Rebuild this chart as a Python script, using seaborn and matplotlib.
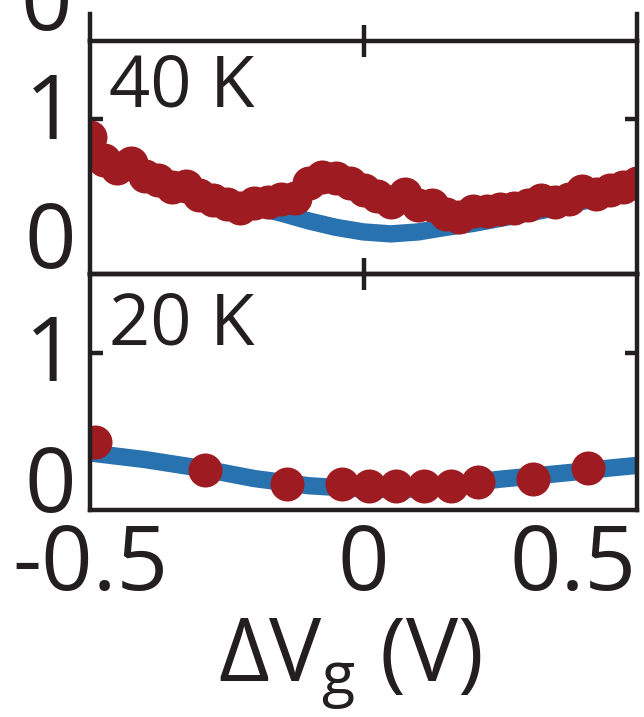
import matplotlib
matplotlib.use("Agg")
import matplotlib.pyplot as plt
import matplotlib.transforms as mtransforms
import seaborn as sns

sns.set_theme(style="white")
plt.rcParams['font.family'] = ['Open Sans', 'DejaVu Sans']
plt.rcParams['mathtext.fontset'] = 'custom'
plt.rcParams['mathtext.rm'] = 'Open Sans'
plt.rcParams['mathtext.it'] = 'Open Sans:italic'

# ---- 40 K: measured points ----
x40 = [-0.500, -0.475, -0.450, -0.425, -0.400, -0.375, -0.350, -0.325, -0.300,
       -0.275, -0.250, -0.225, -0.200, -0.175, -0.150, -0.125, -0.100, -0.075,
       -0.050, -0.025, 0.000, 0.025, 0.050, 0.075, 0.100, 0.125, 0.150, 0.175,
       0.200, 0.225, 0.250, 0.275, 0.300, 0.325, 0.350, 0.375, 0.400, 0.425,
       0.450, 0.475, 0.500]
y40 = [0.86, 0.68, 0.62, 0.66, 0.56, 0.53, 0.47, 0.48, 0.41,
       0.37, 0.34, 0.31, 0.35, 0.36, 0.38, 0.39, 0.50, 0.55,
       0.54, 0.50, 0.45, 0.40, 0.36, 0.42, 0.33, 0.33, 0.26, 0.24,
       0.29, 0.29, 0.30, 0.31, 0.33, 0.37, 0.36, 0.38, 0.44, 0.42,
       0.45, 0.47, 0.50]

# ---- 40 K: model curve ----
xm40 = [-0.5, -0.45, -0.4, -0.35, -0.3, -0.25, -0.2, -0.15, -0.1, -0.05, 0.0,
        0.05, 0.1, 0.15, 0.2, 0.25, 0.3, 0.35, 0.4, 0.45, 0.5]
ym40 = [0.74, 0.66, 0.58, 0.51, 0.44, 0.38, 0.32, 0.27, 0.21, 0.16, 0.125,
        0.11, 0.125, 0.16, 0.19, 0.23, 0.27, 0.31, 0.36, 0.41, 0.46]

# ---- 20 K: measured points ----
x20 = [-0.49, -0.29, -0.14, -0.04, 0.01, 0.06, 0.11, 0.16, 0.21, 0.31, 0.41]
y20 = [0.32, 0.105, 0.0, 0.0, -0.02, -0.02, -0.02, -0.02, 0.015, 0.038, 0.12]

# ---- 20 K: model curve ----
xm20 = [-0.5, -0.4, -0.3, -0.2, -0.1, 0.0, 0.05, 0.1, 0.15, 0.2, 0.25, 0.3,
        0.35, 0.4, 0.45, 0.5]
ym20 = [0.235, 0.185, 0.12, 0.04, -0.015, -0.04, -0.045, -0.04, -0.02, 0.01,
        0.035, 0.055, 0.075, 0.095, 0.12, 0.14]

xticks = [-0.5, 0, 0.5]
xticklabels = ['-0.5', '0', '0.5']
yticks = [0, 1]
yticklabels = ['0', '1']
panel_labels = ['40 K', '20 K']

RED = '#9e1c21'
BLUE = '#2872b0'
INK = '#231f20'
LW = 3.2
TICK_FS = 65
PANEL_FS = 52

W, H = 644, 717
fig = plt.figure(figsize=(W / 100, H / 100), dpi=100)


def rect(top_px, bottom_px, left_px=90, right_px=637):
    return [left_px / W, 1 - bottom_px / H, (right_px - left_px) / W,
            (bottom_px - top_px) / H]


# stub of the panel above: only its side frames show
ax_stub = fig.add_axes(rect(14, 41))
ax_stub.set_xlim(-0.5, 0.5)
for side in ('top', 'bottom'):
    ax_stub.spines[side].set_visible(False)
for side in ('left', 'right'):
    ax_stub.spines[side].set_linewidth(LW)
    ax_stub.spines[side].set_color(INK)
ax_stub.set_xticks([])
ax_stub.set_yticks([])
ax_stub.patch.set_alpha(0)
fig.text(46 / W, 1 - 30 / H, '0', ha='center', va='baseline',
         fontsize=TICK_FS, color=INK)

ax_top = fig.add_axes(rect(41, 274))
ax_bot = fig.add_axes(rect(274, 510))
ax_bot.patch.set_alpha(0)

# (axes, points x, points y, model x, model y, label, label baseline,
#  vertical nudge of y tick labels in px)
panels = [
    (ax_top, x40, y40, xm40, ym40, panel_labels[0], 0.717, 14),
    (ax_bot, x20, y20, xm20, ym20, panel_labels[1], 0.703, 6),
]

for ax, xd, yd, xm, ym, label, ly, nudge in panels:
    sns.lineplot(x=xm, y=ym, ax=ax, color=BLUE, linewidth=12.5, sort=False,
                 zorder=2)
    sns.scatterplot(x=xd, y=yd, ax=ax, color=RED, s=24.5 ** 2, linewidth=0,
                    zorder=3)
    ax.set_xlim(-0.5, 0.5)
    ax.set_ylim(-0.2, 1.6)
    ax.set_xlabel('')
    ax.set_ylabel('')
    ax.xaxis.remove_overlapping_locs = False
    ax.yaxis.remove_overlapping_locs = False
    for s in ax.spines.values():
        s.set_visible(True)
        s.set_linewidth(LW)
        s.set_color(INK)
        s.set_zorder(4)

    ax.set_yticks(yticks)
    ax.set_yticklabels(yticklabels)
    ax.set_yticks([1], minor=True)
    ax.tick_params(axis='y', which='major', length=0, pad=10,
                   labelsize=TICK_FS, labelcolor=INK)
    ax.tick_params(axis='y', which='minor', direction='in', length=9,
                   width=LW, color=INK, left=True, right=True)
    shift = mtransforms.ScaledTranslation(0, nudge / 100, fig.dpi_scale_trans)
    for t in ax.get_yticklabels():
        t.set_transform(t.get_transform() + shift)

    ax.set_xticks(xticks)
    ax.set_xticklabels(xticklabels)
    ax.set_xticks([0], minor=True)
    ax.tick_params(axis='x', which='major', length=0, pad=8,
                   labelsize=TICK_FS, labelcolor=INK)

    ax.text(0.035, ly, label, transform=ax.transAxes, ha='left',
            va='baseline', fontsize=PANEL_FS, color=INK)

ax_top.tick_params(axis='x', which='minor', direction='inout', length=23,
                   width=LW, color=INK, top=True, bottom=True)
ax_top.tick_params(axis='x', which='major', labelbottom=False)
ax_bot.tick_params(axis='x', which='minor', bottom=False, top=False)

xl = ax_bot.get_xticklabels()
xl[-1].set_ha('right')

ax_bot.set_xlabel(r'$\Delta$V$_{\mathregular{g}}$ (V)', fontsize=63,
                  color=INK, labelpad=0)
ax_bot.xaxis.set_label_coords(0.475, -0.45)
ax_bot.xaxis.label.set_va('top')

fig.savefig('out.png', dpi=100)
